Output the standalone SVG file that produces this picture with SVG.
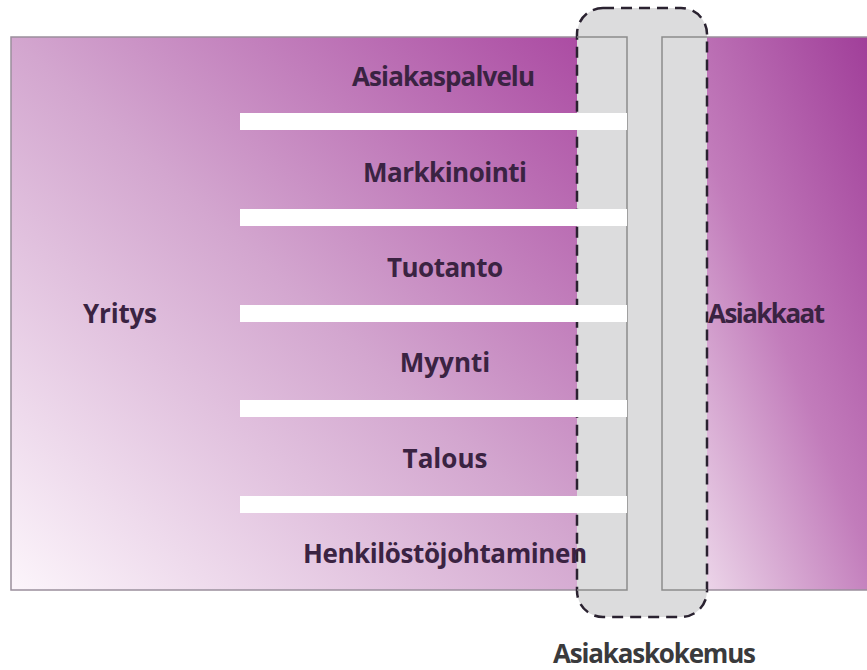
<svg xmlns="http://www.w3.org/2000/svg" width="867" height="670" viewBox="0 0 867 670">
  <defs>
    <linearGradient id="gLeft" x1="0" y1="1" x2="1" y2="0">
      <stop offset="0" stop-color="#fcf5fb"/>
      <stop offset="0.5" stop-color="#d3a6cf"/>
      <stop offset="1" stop-color="#a8449f"/>
    </linearGradient>
    <linearGradient id="gRight" x1="0" y1="1" x2="1" y2="0">
      <stop offset="0" stop-color="#f6ebf4"/>
      <stop offset="0.5" stop-color="#c27cbb"/>
      <stop offset="1" stop-color="#9e3a97"/>
    </linearGradient>
    <style>
      .panel { stroke: #9a8f9c; stroke-width: 1.5; }
      .outline { fill: none; stroke: #8c8c8c; stroke-width: 1.5; }
      .overlay { fill: #dcdcdd; stroke: #2a2230; stroke-width: 2.5; stroke-dasharray: 11 7; }
      .bar { fill: #ffffff; }
      .lbl { font-family: "Open Sans", "Liberation Sans", sans-serif; font-weight: 700; font-size: 26px; fill: #3a2342; }
      .cap { font-family: "Open Sans", "Liberation Sans", sans-serif; font-weight: 700; font-size: 26px; fill: #3a3a3c; }
    </style>
  </defs>
  <rect width="867" height="670" fill="#ffffff"/>

  <g id="yritys">
    <rect class="panel" x="11" y="37" width="616" height="553" fill="url(#gLeft)"/>
  </g>
  <g id="asiakkaat">
    <rect class="panel" x="662" y="37" width="220" height="553" fill="url(#gRight)"/>
  </g>

  <g id="asiakaskokemus">
    <rect class="overlay" x="577" y="8" width="130" height="609" rx="26" ry="26"/>
    <path class="outline" d="M577 37 H627 V590 H577 M707 37 H662 V590 H707"/>
  </g>

  <g id="connectors">
    <rect class="bar" x="240" y="113" width="387" height="17"/>
    <rect class="bar" x="240" y="209" width="387" height="17"/>
    <rect class="bar" x="240" y="305" width="387" height="17"/>
    <rect class="bar" x="240" y="400" width="387" height="17"/>
    <rect class="bar" x="240" y="496" width="387" height="17"/>
  </g>

  <g id="asiakaspalvelu"><text class="lbl" x="352" y="86" textLength="183">Asiakaspalvelu</text></g>
  <g id="markkinointi"><text class="lbl" x="363" y="182" textLength="164">Markkinointi</text></g>
  <g id="tuotanto"><text class="lbl" x="387" y="277" textLength="116">Tuotanto</text></g>
  <g id="myynti"><text class="lbl" x="445" y="372" text-anchor="middle">Myynti</text></g>
  <g id="talous"><text class="lbl" x="445" y="468" text-anchor="middle">Talous</text></g>
  <g id="henkilostojohtaminen"><text class="lbl" x="303" y="563" textLength="284">Henkilöstöjohtaminen</text></g>
  <g id="yritys-label"><text class="lbl" x="83" y="323" textLength="74">Yritys</text></g>
  <g id="asiakkaat-label"><text class="lbl" x="708" y="323" textLength="117">Asiakkaat</text></g>
  <g id="asiakaskokemus-label"><text class="cap" x="553" y="663" textLength="203">Asiakaskokemus</text></g>
</svg>
